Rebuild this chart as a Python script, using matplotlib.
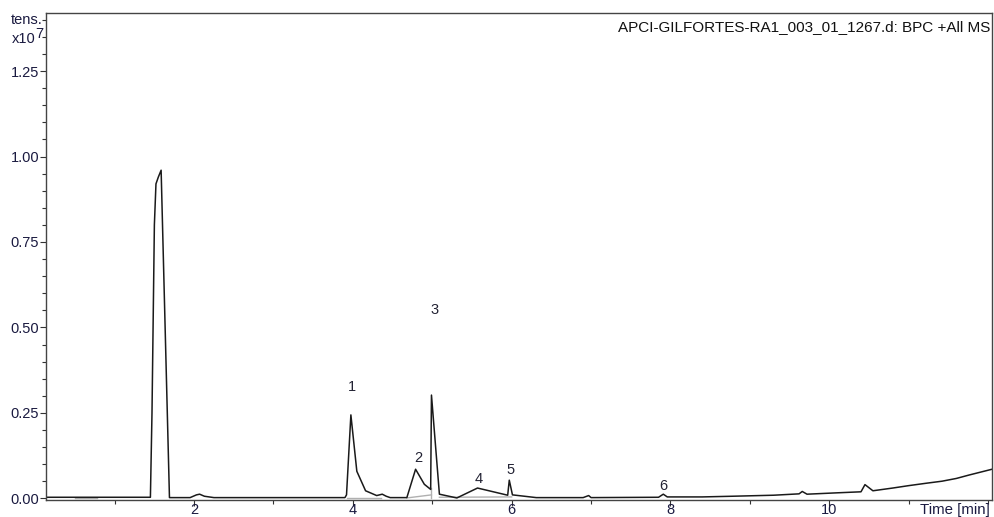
import matplotlib
matplotlib.use('Agg')
import matplotlib.pyplot as plt
from matplotlib.ticker import MultipleLocator, FixedLocator

plt.rcParams['font.family'] = ['Liberation Sans', 'DejaVu Sans']

# BPC trace, intensity in units of 1e7
time = [0.14, 1.0, 1.45, 1.47, 1.50, 1.52, 1.55, 1.585, 1.69, 1.72,
        1.95, 2.03, 2.07, 2.13, 2.25, 3.0, 3.90, 3.92, 3.975, 4.05, 4.16,
        4.30, 4.37, 4.42, 4.47, 4.68, 4.79, 4.90, 4.98, 4.99, 5.09, 5.31,
        5.57, 5.95, 5.97, 6.01, 6.31, 6.9, 6.97, 7.0, 7.85, 7.91, 7.96,
        8.4, 8.78, 9.3, 9.62, 9.66, 9.72, 10.1, 10.4, 10.45, 10.55, 10.8,
        11.0, 11.22, 11.42, 11.6, 11.76, 12.05]
intensity = [0.003, 0.003, 0.003, 0.25, 0.80, 0.92, 0.94, 0.96, 0.002, 0.002,
             0.002, 0.010, 0.012, 0.006, 0.002, 0.002, 0.002, 0.010, 0.244, 0.079, 0.022,
             0.008, 0.012, 0.006, 0.002, 0.002, 0.085, 0.041, 0.026, 0.302, 0.012, 0.001,
             0.030, 0.009, 0.053, 0.010, 0.002, 0.002, 0.008, 0.002, 0.003, 0.012, 0.004,
             0.004, 0.006, 0.009, 0.013, 0.020, 0.012, 0.016, 0.019, 0.040, 0.022, 0.030,
             0.037, 0.044, 0.050, 0.058, 0.068, 0.085]

# integration baselines (grey)
base_segments = [([3.92, 4.35], [0.001, 0.001]),
                 ([4.68, 4.99], [0.001, 0.010]),
                 ([4.99, 4.99], [0.001, 0.030]),
                 ([5.09, 6.0], [0.003, 0.004]),
                 ([0.50, 0.78], [0.001, 0.001])]

peak_labels = ['1', '2', '3', '4', '5', '6']
peak_x = [3.99, 4.82, 5.03, 5.58, 5.99, 7.91]
peak_y = [0.325, 0.117, 0.55, 0.056, 0.082, 0.035]

fig = plt.figure(figsize=(9.94, 5.17), dpi=100)
ax = fig.add_axes([46/994, 17/517, 946/994, 487/517])

for xs, ys in base_segments:
    ax.plot(xs, ys, color='#b0b0b0', lw=1.0)
ax.plot(time, intensity, color='#1a1a1a', lw=1.1)

for lab, px, py in zip(peak_labels, peak_x, peak_y):
    ax.text(px, py, lab, ha='center', va='center', fontsize=10.5, color='#222233')

ax.set_xlim(0.135, 12.05)
ax.set_ylim(-0.005, 1.42)
ax.xaxis.set_major_locator(FixedLocator([2, 4, 6, 8, 10]))
ax.xaxis.set_minor_locator(MultipleLocator(1))
ax.yaxis.set_major_locator(MultipleLocator(0.25))
ax.yaxis.set_minor_locator(MultipleLocator(0.05))
ax.yaxis.set_major_formatter(plt.FuncFormatter(lambda v, p: '%.2f' % v))

ax.tick_params(which='major', length=4, width=0.8, labelsize=10.5, colors='#333333',
               labelcolor='#1a1a40')
ax.tick_params(axis='y', which='major', pad=1)
ax.tick_params(axis='x', which='major', pad=-1.5)
ax.tick_params(which='minor', length=3, width=0.8, colors='#333333')
for s in ax.spines.values():
    s.set_color('#444444')
    s.set_linewidth(1.0)

ax.text(0.998, 0.985, 'APCI-GILFORTES-RA1_003_01_1267.d: BPC +All MS', transform=ax.transAxes,
        ha='right', va='top', fontsize=11, color='#111111')
fig.text(43/994, 1 - 20/517, 'tens.', ha='right', va='center', fontsize=10.5, color='#1a1a40')
fig.text(36/994, 1 - 39/517, 'x10', ha='right', va='center', fontsize=10.5, color='#1a1a40')
fig.text(35/994, 1 - 34/517, '7', ha='left', va='center', fontsize=10.5, color='#1a1a40')
fig.text(990/994, 1 - 510/517, 'Time [min]', ha='right', va='center', fontsize=10.8,
         color='#1a1a40')

fig.savefig('out.png', dpi=100)
